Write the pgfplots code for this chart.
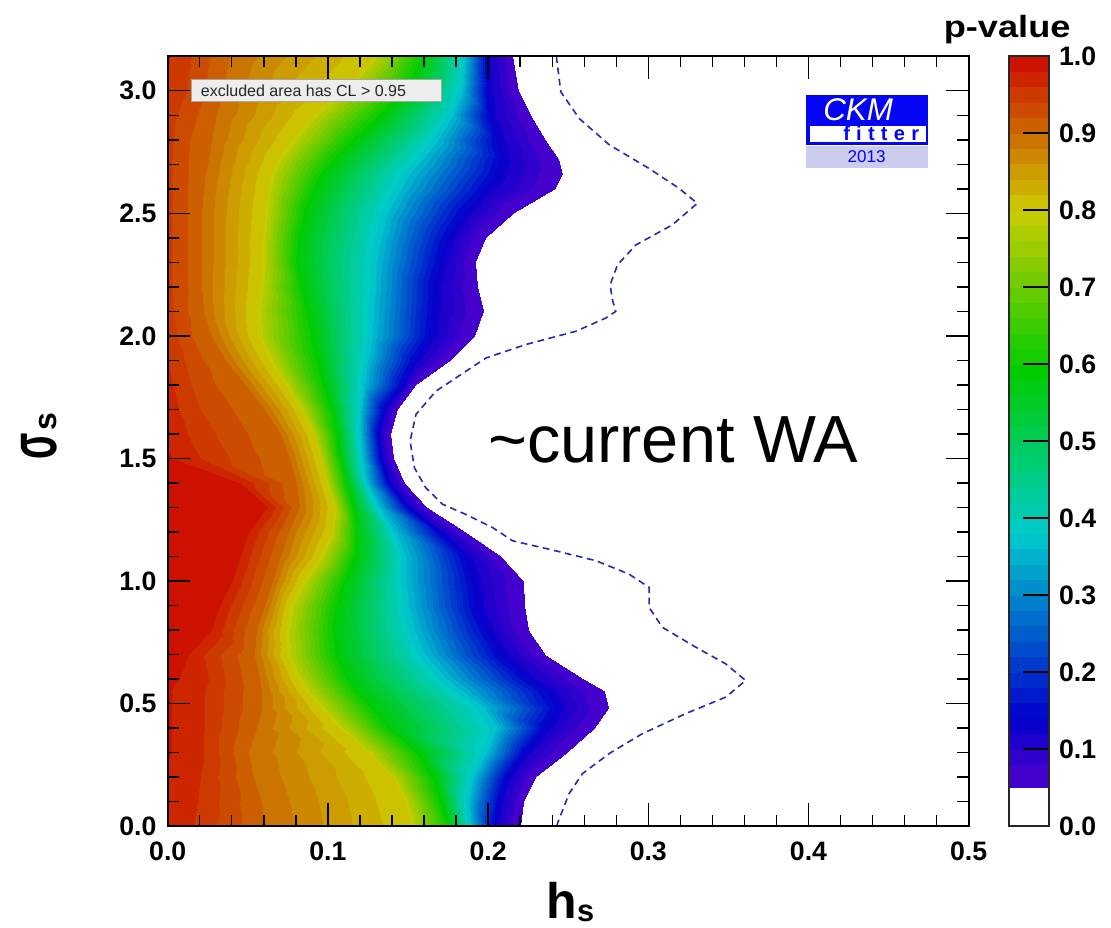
\documentclass[border=0pt]{standalone}
\usepackage{fontspec}
\setmainfont{Liberation Sans}
\usepackage{graphicx}
\usepackage{pgfplots}
\pgfplotsset{compat=1.18}
\usepackage{pgfplotstable}

\definecolor{k0}{Hsb}{260,1,0.8}\definecolor{k1}{Hsb}{254,1,0.8}\definecolor{k2}{Hsb}{249,1,0.8}
\definecolor{k3}{Hsb}{243,1,0.8}\definecolor{k4}{Hsb}{237.5,1,0.8}\definecolor{k5}{Hsb}{232.5,1,0.8}
\definecolor{k6}{Hsb}{227.5,1,0.8}\definecolor{k7}{Hsb}{222.5,1,0.8}\definecolor{k8}{Hsb}{217.5,1,0.8}
\definecolor{k9}{Hsb}{212.5,1,0.8}\definecolor{k10}{Hsb}{207.5,1,0.8}\definecolor{k11}{Hsb}{202.5,1,0.8}
\definecolor{k12}{Hsb}{197.5,1,0.8}\definecolor{k13}{Hsb}{192.5,1,0.8}\definecolor{k14}{Hsb}{187.5,1,0.8}
\definecolor{k15}{Hsb}{182.5,1,0.8}\definecolor{k16}{Hsb}{177,1,0.8}\definecolor{k17}{Hsb}{171,1,0.8}
\definecolor{k18}{Hsb}{166,1,0.8}\definecolor{k19}{Hsb}{160,1,0.8}\definecolor{k20}{Hsb}{154,1,0.8}
\definecolor{k21}{Hsb}{149,1,0.8}\definecolor{k22}{Hsb}{143,1,0.8}\definecolor{k23}{Hsb}{137,1,0.8}
\definecolor{k24}{Hsb}{131,1,0.8}\definecolor{k25}{Hsb}{126,1,0.8}\definecolor{k26}{Hsb}{120,1,0.8}
\definecolor{k27}{Hsb}{114,1,0.8}\definecolor{k28}{Hsb}{109,1,0.8}\definecolor{k29}{Hsb}{103,1,0.8}
\definecolor{k30}{Hsb}{97,1,0.8}\definecolor{k31}{Hsb}{91,1,0.8}\definecolor{k32}{Hsb}{86,1,0.8}
\definecolor{k33}{Hsb}{80,1,0.8}\definecolor{k34}{Hsb}{74,1,0.8}\definecolor{k35}{Hsb}{69,1,0.8}
\definecolor{k36}{Hsb}{63,1,0.8}\definecolor{k37}{Hsb}{57,1,0.8}\definecolor{k38}{Hsb}{51,1,0.8}
\definecolor{k39}{Hsb}{46,1,0.8}\definecolor{k40}{Hsb}{40,1,0.8}\definecolor{k41}{Hsb}{34,1,0.8}
\definecolor{k42}{Hsb}{28,1,0.8}\definecolor{k43}{Hsb}{22,1,0.8}\definecolor{k44}{Hsb}{17,1,0.8}
\definecolor{k45}{Hsb}{11,1,0.8}\definecolor{k46}{Hsb}{5,1,0.8}
\definecolor{dashcol}{RGB}{40,40,170}
\definecolor{ckmblue}{RGB}{5,5,245}
\definecolor{ckmlav}{RGB}{204,204,238}

\pgfplotsset{colormap={ckm}{color(0pt)=(white) color(5pt)=(k0) color(8pt)=(k1) color(10pt)=(k2)
 color(12pt)=(k3) color(14pt)=(k4) color(16pt)=(k5) color(18pt)=(k6) color(20pt)=(k7) color(22pt)=(k8)
 color(24pt)=(k9) color(26pt)=(k10) color(28pt)=(k11) color(30pt)=(k12) color(32pt)=(k13) color(34pt)=(k14)
 color(36pt)=(k15) color(38pt)=(k16) color(40pt)=(k17) color(42pt)=(k18) color(44pt)=(k19) color(46pt)=(k20)
 color(48pt)=(k21) color(50pt)=(k22) color(52pt)=(k23) color(54pt)=(k24) color(56pt)=(k25) color(58pt)=(k26)
 color(60pt)=(k27) color(62pt)=(k28) color(64pt)=(k29) color(66pt)=(k30) color(68pt)=(k31) color(70pt)=(k32)
 color(72pt)=(k33) color(74pt)=(k34) color(76pt)=(k35) color(78pt)=(k36) color(80pt)=(k37) color(82pt)=(k38)
 color(84pt)=(k39) color(86pt)=(k40) color(88pt)=(k41) color(90pt)=(k42) color(92pt)=(k43) color(94pt)=(k44)
 color(96pt)=(k45) color(98pt)=(k46) color(100pt)=(k46)}}

% p-value contour positions: each row = one sigma_s value, points along h_s
\pgfplotstableread[row sep=\\]{
h s p\\
0 0 0.975\\ 0.016 0 0.96\\ 0.060 0 0.90\\ 0.152 0 0.80\\ 0.177 0 0.58\\ 0.188 0 0.37\\ 0.204 0 0.13\\ 0.2205 0 0.05\\ 0.5 0 0\\
0 0.1 0.975\\ 0.018 0.1 0.96\\ 0.058 0.1 0.90\\ 0.148 0.1 0.80\\ 0.172 0.1 0.58\\ 0.187 0.1 0.37\\ 0.207 0.1 0.13\\ 0.2225 0.1 0.05\\ 0.5 0.1 0\\
0 0.2 0.977\\ 0.02 0.2 0.96\\ 0.053 0.2 0.90\\ 0.140 0.2 0.80\\ 0.167 0.2 0.58\\ 0.190 0.2 0.37\\ 0.212 0.2 0.13\\ 0.230 0.2 0.05\\ 0.5 0.2 0\\
0 0.3 0.982\\ 0.02 0.3 0.965\\ 0.050 0.3 0.90\\ 0.125 0.3 0.80\\ 0.158 0.3 0.58\\ 0.198 0.3 0.37\\ 0.223 0.3 0.13\\ 0.249 0.3 0.05\\ 0.5 0.3 0\\
0 0.4 0.982\\ 0.02 0.4 0.965\\ 0.055 0.4 0.90\\ 0.107 0.4 0.80\\ 0.140 0.4 0.58\\ 0.204 0.4 0.37\\ 0.236 0.4 0.13\\ 0.267 0.4 0.05\\ 0.5 0.4 0\\
0 0.48 0.982\\ 0.02 0.48 0.965\\ 0.058 0.48 0.90\\ 0.095 0.48 0.80\\ 0.130 0.48 0.58\\ 0.196 0.48 0.37\\ 0.244 0.48 0.13\\ 0.2756 0.48 0.05\\ 0.5 0.48 0\\
0 0.55 0.982\\ 0.02 0.55 0.965\\ 0.058 0.55 0.90\\ 0.086 0.55 0.80\\ 0.120 0.55 0.58\\ 0.182 0.55 0.37\\ 0.238 0.55 0.13\\ 0.273 0.55 0.05\\ 0.5 0.55 0\\
0 0.6 0.985\\ 0.02 0.6 0.97\\ 0.057 0.6 0.90\\ 0.081 0.6 0.80\\ 0.114 0.6 0.58\\ 0.172 0.6 0.37\\ 0.226 0.6 0.13\\ 0.260 0.6 0.05\\ 0.5 0.6 0\\
0 0.7 0.99\\ 0.012 0.7 0.98\\ 0.054 0.7 0.90\\ 0.074 0.7 0.80\\ 0.107 0.7 0.58\\ 0.159 0.7 0.37\\ 0.209 0.7 0.13\\ 0.236 0.7 0.05\\ 0.5 0.7 0\\
0 0.8 0.995\\ 0.027 0.8 0.98\\ 0.055 0.8 0.90\\ 0.073 0.8 0.80\\ 0.105 0.8 0.58\\ 0.152 0.8 0.37\\ 0.200 0.8 0.13\\ 0.2255 0.8 0.05\\ 0.5 0.8 0\\
0 0.9 0.995\\ 0.032 0.9 0.98\\ 0.060 0.9 0.90\\ 0.076 0.9 0.80\\ 0.107 0.9 0.58\\ 0.149 0.9 0.37\\ 0.194 0.9 0.13\\ 0.2232 0.9 0.05\\ 0.5 0.9 0\\
0 1.0 0.995\\ 0.040 1.0 0.98\\ 0.065 1.0 0.90\\ 0.084 1.0 0.80\\ 0.112 1.0 0.58\\ 0.147 1.0 0.37\\ 0.191 1.0 0.13\\ 0.2222 1.0 0.05\\ 0.5 1.0 0\\
0 1.1 0.995\\ 0.045 1.1 0.98\\ 0.070 1.1 0.90\\ 0.095 1.1 0.80\\ 0.118 1.1 0.58\\ 0.147 1.1 0.37\\ 0.186 1.1 0.13\\ 0.208 1.1 0.05\\ 0.5 1.1 0\\
0 1.2 0.995\\ 0.050 1.2 0.98\\ 0.075 1.2 0.90\\ 0.102 1.2 0.80\\ 0.119 1.2 0.58\\ 0.141 1.2 0.37\\ 0.170 1.2 0.13\\ 0.186 1.2 0.05\\ 0.5 1.2 0\\
0 1.3 0.995\\ 0.062 1.3 0.98\\ 0.082 1.3 0.90\\ 0.104 1.3 0.80\\ 0.116 1.3 0.58\\ 0.131 1.3 0.37\\ 0.150 1.3 0.13\\ 0.162 1.3 0.05\\ 0.5 1.3 0\\
0 1.4 0.99\\ 0.045 1.4 0.98\\ 0.080 1.4 0.90\\ 0.099 1.4 0.80\\ 0.112 1.4 0.58\\ 0.124 1.4 0.37\\ 0.138 1.4 0.13\\ 0.148 1.4 0.05\\ 0.5 1.4 0\\
0 1.5 0.983\\ 0.02 1.5 0.96\\ 0.076 1.5 0.90\\ 0.095 1.5 0.80\\ 0.108 1.5 0.58\\ 0.121 1.5 0.37\\ 0.133 1.5 0.13\\ 0.1415 1.5 0.05\\ 0.5 1.5 0\\
0 1.6 0.975\\ 0.02 1.6 0.95\\ 0.070 1.6 0.90\\ 0.091 1.6 0.80\\ 0.106 1.6 0.58\\ 0.120 1.6 0.37\\ 0.131 1.6 0.13\\ 0.1395 1.6 0.05\\ 0.5 1.6 0\\
0 1.7 0.97\\ 0.02 1.7 0.94\\ 0.060 1.7 0.90\\ 0.083 1.7 0.80\\ 0.103 1.7 0.58\\ 0.120 1.7 0.37\\ 0.135 1.7 0.13\\ 0.1435 1.7 0.05\\ 0.5 1.7 0\\
0 1.8 0.965\\ 0.02 1.8 0.93\\ 0.048 1.8 0.90\\ 0.073 1.8 0.80\\ 0.099 1.8 0.58\\ 0.122 1.8 0.37\\ 0.147 1.8 0.13\\ 0.155 1.8 0.05\\ 0.5 1.8 0\\
0 1.9 0.96\\ 0.015 1.9 0.93\\ 0.036 1.9 0.90\\ 0.063 1.9 0.80\\ 0.095 1.9 0.58\\ 0.124 1.9 0.37\\ 0.155 1.9 0.13\\ 0.177 1.9 0.05\\ 0.5 1.9 0\\
0 2.0 0.955\\ 0.012 2.0 0.925\\ 0.027 2.0 0.90\\ 0.056 2.0 0.80\\ 0.092 2.0 0.58\\ 0.126 2.0 0.37\\ 0.165 2.0 0.13\\ 0.192 2.0 0.05\\ 0.5 2.0 0\\
0 2.1 0.948\\ 0.01 2.1 0.925\\ 0.022 2.1 0.90\\ 0.055 2.1 0.80\\ 0.089 2.1 0.58\\ 0.127 2.1 0.37\\ 0.166 2.1 0.13\\ 0.1976 2.1 0.05\\ 0.5 2.1 0\\
0 2.2 0.945\\ 0.01 2.2 0.925\\ 0.021 2.2 0.90\\ 0.057 2.2 0.80\\ 0.085 2.2 0.58\\ 0.128 2.2 0.37\\ 0.167 2.2 0.13\\ 0.1937 2.2 0.05\\ 0.5 2.2 0\\
0 2.3 0.945\\ 0.01 2.3 0.925\\ 0.021 2.3 0.90\\ 0.059 2.3 0.80\\ 0.082 2.3 0.58\\ 0.129 2.3 0.37\\ 0.171 2.3 0.13\\ 0.1925 2.3 0.05\\ 0.5 2.3 0\\
0 2.4 0.945\\ 0.01 2.4 0.925\\ 0.021 2.4 0.90\\ 0.059 2.4 0.80\\ 0.083 2.4 0.58\\ 0.131 2.4 0.37\\ 0.176 2.4 0.13\\ 0.199 2.4 0.05\\ 0.5 2.4 0\\
0 2.5 0.945\\ 0.01 2.5 0.925\\ 0.021 2.5 0.90\\ 0.060 2.5 0.80\\ 0.087 2.5 0.58\\ 0.135 2.5 0.37\\ 0.186 2.5 0.13\\ 0.216 2.5 0.05\\ 0.5 2.5 0\\
0 2.6 0.945\\ 0.01 2.6 0.925\\ 0.022 2.6 0.90\\ 0.062 2.6 0.80\\ 0.093 2.6 0.58\\ 0.143 2.6 0.37\\ 0.200 2.6 0.13\\ 0.242 2.6 0.05\\ 0.5 2.6 0\\
0 2.66 0.945\\ 0.01 2.66 0.925\\ 0.023 2.66 0.90\\ 0.064 2.66 0.80\\ 0.098 2.66 0.58\\ 0.149 2.66 0.37\\ 0.207 2.66 0.13\\ 0.2465 2.66 0.05\\ 0.5 2.66 0\\
0 2.72 0.945\\ 0.01 2.72 0.925\\ 0.025 2.72 0.90\\ 0.068 2.72 0.80\\ 0.106 2.72 0.58\\ 0.157 2.72 0.37\\ 0.209 2.72 0.13\\ 0.244 2.72 0.05\\ 0.5 2.72 0\\
0 2.8 0.947\\ 0.011 2.8 0.925\\ 0.027 2.8 0.90\\ 0.077 2.8 0.80\\ 0.118 2.8 0.58\\ 0.167 2.8 0.37\\ 0.206 2.8 0.13\\ 0.236 2.8 0.05\\ 0.5 2.8 0\\
0 2.9 0.95\\ 0.012 2.9 0.93\\ 0.030 2.9 0.90\\ 0.090 2.9 0.80\\ 0.135 2.9 0.58\\ 0.177 2.9 0.37\\ 0.201 2.9 0.13\\ 0.227 2.9 0.05\\ 0.5 2.9 0\\
0 3.0 0.958\\ 0.015 3.0 0.935\\ 0.034 3.0 0.90\\ 0.108 3.0 0.80\\ 0.150 3.0 0.58\\ 0.183 3.0 0.37\\ 0.200 3.0 0.13\\ 0.219 3.0 0.05\\ 0.5 3.0 0\\
0 3.1416 0.962\\ 0.018 3.1416 0.935\\ 0.038 3.1416 0.90\\ 0.128 3.1416 0.80\\ 0.161 3.1416 0.58\\ 0.185 3.1416 0.37\\ 0.1995 3.1416 0.13\\ 0.2153 3.1416 0.05\\ 0.5 3.1416 0\\
}\maindata

\pgfplotstableread[row sep=\\]{
x y p\\ 0 0 0\\ 1 0 0\\ 0 1 1\\ 1 1 1\\
}\bardata

\begin{document}
\begin{tikzpicture}
\path[use as bounding box] (-125.8pt,-76.4pt) rectangle (707.5pt,619.6pt);
\begin{axis}[
  at={(0,0)}, anchor=south west, scale only axis,
  width=600.75pt, height=577.5pt,
  xmin=0, xmax=0.5, ymin=0, ymax=3.1416,
  xtick={0,0.1,0.2,0.3,0.4,0.5}, minor x tick num=4,
  ytick={0,0.5,1,1.5,2,2.5,3}, minor y tick num=4,
  tick align=inside, major tick length=17pt, minor tick length=8.5pt,
  every tick/.style={black, line width=1pt},
  axis line style={line width=1.4pt},
  axis on top,
  colormap name=ckm, colormap access=piecewise constant,
  point meta min=0, point meta max=1,
  ticklabel style={font=\fontsize{20}{20}\selectfont\bfseries},
  xticklabel style={yshift=-8.5pt},
  yticklabel style={xshift=-5pt},
  /pgf/number format/fixed, /pgf/number format/fixed zerofill,
  /pgf/number format/precision=1, /pgf/number format/assume math mode=true,
]
\addplot[surf, shader=interp, mesh/ordering=x varies, mesh/cols=9, point meta=\thisrow{p}]
  table[x=h, y=s] {\maindata};
\addplot[dashcol, line width=1.2pt, dash pattern=on 5pt off 3.5pt] coordinates {
(0.2430,0) (0.2433,0.011) (0.2506,0.133) (0.2589,0.214) (0.2756,0.296) (0.2963,0.377)
(0.3234,0.459) (0.3483,0.526) (0.3608,0.594) (0.3483,0.662) (0.3296,0.73) (0.3088,0.811)
(0.3005,0.892) (0.3005,0.974) (0.288,1.028) (0.2672,1.083) (0.2423,1.123) (0.2153,1.164)
(0.2028,1.218) (0.186,1.272) (0.1716,1.313) (0.161,1.381) (0.154,1.462) (0.1513,1.571)
(0.155,1.68) (0.1675,1.775) (0.1862,1.856) (0.1987,1.91) (0.2236,1.965) (0.2548,2.019)
(0.2735,2.073) (0.2797,2.10) (0.2775,2.15) (0.2762,2.209) (0.2808,2.29) (0.2922,2.371)
(0.315,2.453) (0.3306,2.541) (0.3192,2.602) (0.3005,2.683) (0.2756,2.78) (0.2569,2.887)
(0.2454,2.996) (0.2428,3.13) (0.2427,3.1416)};
\end{axis}

% colour scale
\begin{axis}[
  at={(631.2pt,0)}, anchor=south west, scale only axis,
  width=29.8pt, height=577.5pt,
  xmin=0, xmax=1, ymin=0, ymax=1,
  xtick=\empty,
  ytick={0,0.1,0.2,0.3,0.4,0.5,0.6,0.7,0.8,0.9,1},
  ytick pos=right, yticklabel pos=right,
  tick align=inside, major tick length=19.5pt,
  every tick/.style={black, line width=1pt},
  axis line style={line width=1.2pt, black!85},
  axis on top,
  colormap name=ckm, colormap access=piecewise constant,
  point meta min=0, point meta max=1,
  ticklabel style={font=\fontsize{20}{20}\selectfont\bfseries},
  yticklabel style={xshift=4pt},
  /pgf/number format/fixed, /pgf/number format/fixed zerofill,
  /pgf/number format/precision=1, /pgf/number format/assume math mode=true,
]
\addplot[surf, shader=interp, mesh/ordering=x varies, mesh/cols=2, point meta=\thisrow{p}]
  table[x=x, y=y] {\bardata};
\end{axis}

% legend box
\filldraw[fill=black!7, draw=black!35, line width=0.8pt] (17.8pt,543.2pt) rectangle (205.3pt,560pt);
\node[anchor=west, inner sep=0, text=black!85] at (24.75pt,551.4pt) {\fontsize{12}{12}\selectfont excluded area has CL > 0.95};

% CKMfitter logo
\fill[ckmblue] (478.9pt,510.75pt) rectangle (570.2pt,548.25pt);
\fill[white] (481.5pt,513pt) rectangle (568.9pt,525.4pt);
\fill[ckmlav] (478.9pt,493.7pt) rectangle (570.2pt,510pt);
\node[anchor=base west, inner sep=0, text=white] at (491.5pt,529pt) {\fontsize{23.5}{23.5}\selectfont\itshape CKM};
\node[anchor=base west, inner sep=0, text=ckmblue] at (506.5pt,514.3pt) {\fontsize{15}{15}\selectfont\bfseries f\kern4.7pt i\kern4.7pt t\kern4.7pt t\kern4.7pt e\kern4.7pt r};
\node[inner sep=0, text=ckmblue] at (524.25pt,501.75pt) {\fontsize{12.8}{13}\selectfont 2013};

% big annotation
\node[anchor=base west, inner sep=0] at (240.2pt,272.5pt) {\fontsize{50}{50}\selectfont \textasciitilde current WA};

% colour scale title
\node[anchor=base, inner sep=0] at (629.6pt,591.5pt) {\fontsize{23}{23}\selectfont\bfseries\scalebox{1.18}[1]{p-value}};

% axis titles
\node[anchor=base west, inner sep=0] at (284pt,-69.2pt) {\fontsize{37.5}{37.5}\selectfont\bfseries h\raisebox{-2.5pt}{\fontsize{23}{23}\selectfont s}};
\node[rotate=90, anchor=base west, inner sep=0] at (-83.3pt,274.6pt) {\fontsize{40}{40}\selectfont\bfseries\scalebox{0.72}[1.25]{σ}\kern2pt{\fontsize{24}{24}\selectfont s}};
\end{tikzpicture}
\end{document}
